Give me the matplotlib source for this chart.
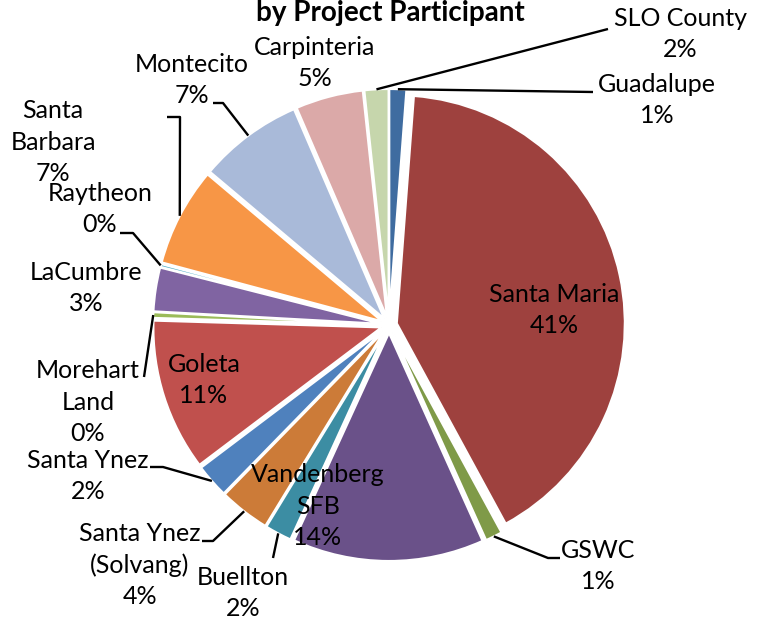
import matplotlib
matplotlib.use("Agg")
import matplotlib.pyplot as plt
import numpy as np

# slices, clockwise from 12 o'clock
participants = ["Guadalupe", "Santa Maria", "GSWC", "Vandenberg\nSFB", "Buellton",
                "Santa Ynez\n(Solvang)", "Santa Ynez", "Goleta", "Morehart\nLand",
                "LaCumbre", "Raytheon", "Santa\nBarbara", "Montecito", "Carpinteria",
                "SLO County"]
shares = [1.2, 41.0, 1.2, 13.6, 1.9, 3.6, 2.4, 10.8, 0.4, 3.1, 0.2, 7.0, 7.4, 4.8, 1.7]
colors = ["#3F6CA0", "#9E413E", "#7F9A48", "#6A5189", "#3C8DA3",
          "#CC7B38", "#4F81BD", "#C0504D", "#9BBB59", "#8064A2",
          "#4BACC6", "#F79646", "#A9BAD9", "#DBA9A8", "#C6D6AC"]

W, H = 761, 632
CX, CY, R = 389, 325, 228


def px(x, y):
    # pixel position in the picture -> data coords (pie radius = 1)
    return (x - CX) / R, (CY - y) / R


# label centres (pixels) and leader line points from the slice outwards
label_pos = [(657, 100), (554, 310), (598, 566), (318, 506), (243, 593),
             (140, 565), (88, 476), (204, 380), (88, 402), (86, 288),
             (100, 209), (53, 142), (192, 80), (315, 63), (680, 34)]
leaders = [[(593, 92)], [], [(548, 558), (560, 558)], [], [(273, 558)],
           [(213, 541), (202, 541)], [(163, 467), (150, 467)], [], [(144, 377)], [],
           [(133, 233), (120, 233)], [(180, 117), (167, 117)], [(223, 103), (213, 103)], [],
           [(608, 29)]]

fig = plt.figure(figsize=(W / 100, H / 100), dpi=100)
ax = fig.add_axes([0, 0, 1, 1])

wedges, _ = ax.pie(shares, colors=colors, startangle=90, counterclock=False, radius=1,
                   explode=[0.035] * len(shares),
                   wedgeprops=dict(edgecolor="white", linewidth=1.5))
ax.set_aspect("auto")
ax.set_xlim(px(0, 0)[0], px(W, 0)[0])
ax.set_ylim(px(0, H)[1], px(0, 0)[1])
ax.axis("off")

total = sum(shares)
for w, name, v, pos, pts in zip(wedges, participants, shares, label_pos, leaders):
    ax.text(*px(*pos), f"{name}\n{v / total * 100:.0f}%", ha="center", va="center",
            fontsize=18, family="Lato", linespacing=1.45, color="black")
    if pts:
        t = np.deg2rad((w.theta1 + w.theta2) / 2)
        x0 = w.center[0] + w.r * np.cos(t)
        y0 = w.center[1] + w.r * np.sin(t)
        xs = [x0] + [px(*p)[0] for p in pts]
        ys = [y0] + [px(*p)[1] for p in pts]
        ax.plot(xs, ys, color="black", lw=1.7, solid_capstyle="butt")

ax.text(*px(390, 13), "by Project Participant", ha="center", va="center",
        fontsize=20, fontweight="bold", family="Lato")

fig.savefig("out.png", dpi=100)
